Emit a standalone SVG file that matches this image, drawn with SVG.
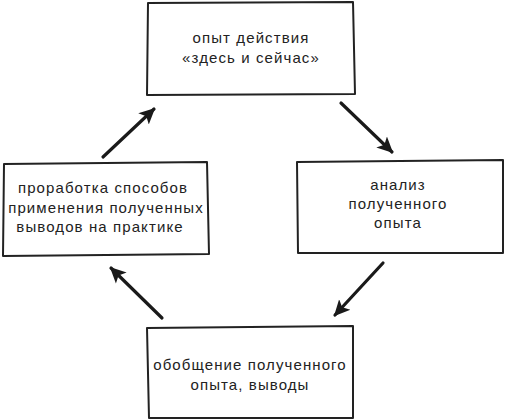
<svg xmlns="http://www.w3.org/2000/svg" width="506" height="420" viewBox="0 0 506 420">
<style>
.box{fill:#fff;stroke:#222;stroke-width:2;stroke-linejoin:round}
.t{font-family:"Liberation Sans",Arial,sans-serif;font-size:15px;fill:#222;text-anchor:middle;letter-spacing:1.1px}
.c{stroke:#1a1a1a;stroke-width:3.2;fill:none;stroke-linecap:round}
</style>
<defs>
<marker id="ah" markerWidth="6" markerHeight="6" refX="4.5" refY="3" orient="auto" markerUnits="strokeWidth">
<path d="M0,0.6 L5,3 L0,5.4 L1.2,3 Z" fill="#1a1a1a"/>
</marker>
</defs>
<rect width="506" height="420" fill="#fff"/>
<g id="connectors">
<path class="c" d="M103,157 L154,109" marker-end="url(#ah)"/>
<path class="c" d="M341,103 L392,152" marker-end="url(#ah)"/>
<path class="c" d="M383,263 L335,315" marker-end="url(#ah)"/>
<path class="c" d="M162,318 L111,268" marker-end="url(#ah)"/>
</g>
<g id="node-top">
<path class="box" d="M148,3 L353,2 L355,94 L147,95 Z"/>
<text class="t" x="251" y="43">опыт действия</text>
<text class="t" x="251" y="63">«здесь и сейчас»</text>
</g>
<g id="node-left">
<path class="box" d="M4,164 L207,162 L209,254 L3,256 Z"/>
<text class="t" x="103" y="193">проработка способов</text>
<text class="t" x="106" y="213">применения полученных</text>
<text class="t" x="100" y="232">выводов на практике</text>
</g>
<g id="node-right">
<path class="box" d="M297,162 L503,160 L503,253 L298,253 Z"/>
<text class="t" x="398" y="190">анализ</text>
<text class="t" x="398" y="209">полученного</text>
<text class="t" x="398" y="228">опыта</text>
</g>
<g id="node-bottom">
<path class="box" d="M147,328 L353,326 L353,418 L149,418 Z"/>
<text class="t" x="250" y="370">обобщение полученного</text>
<text class="t" x="250" y="390">опыта, выводы</text>
</g>
</svg>
